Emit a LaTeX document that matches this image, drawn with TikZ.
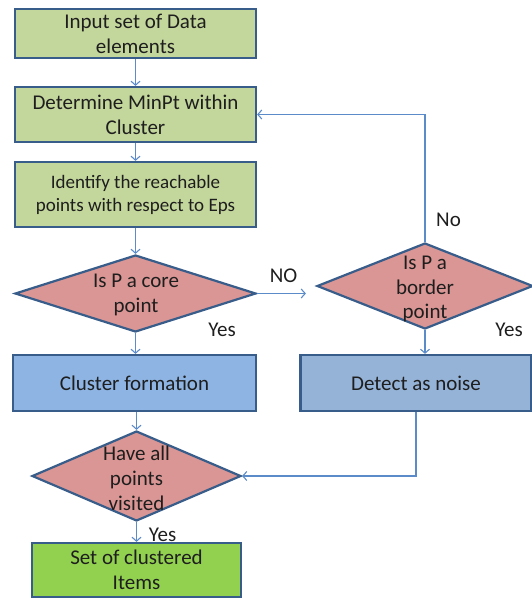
\documentclass[tikz,border=0pt]{standalone}
\usepackage{fontspec}
\setmainfont{Carlito}
\usetikzlibrary{shapes.geometric,arrows.meta}
\definecolor{bordc}{HTML}{385D8A}
\definecolor{linec}{HTML}{5B8BC9}
\definecolor{greenA}{HTML}{C3D69B}
\definecolor{pinkA}{HTML}{D99694}
\definecolor{blueA}{HTML}{8DB4E2}
\definecolor{blueB}{HTML}{95B3D7}
\definecolor{greenB}{HTML}{92D050}
\definecolor{txt}{HTML}{1E1E1E}
\tikzset{
  box/.style={draw=bordc, line width=2.2pt, rectangle, align=center, text=txt,
    inner sep=0pt, font=\fontsize{21}{25}\selectfont},
  dia/.style={draw=bordc, line width=2.2pt, diamond, fill=pinkA, inner sep=0pt},
  diatext/.style={align=center, text=txt, inner sep=0pt, font=\fontsize{21}{25}\selectfont},
  lab/.style={text=txt, inner sep=0pt, font=\fontsize{21}{25}\selectfont},
  arr/.style={draw=linec, line width=1.3pt, -{Straight Barb[length=4pt,width=9pt,line width=1.1pt]}},
}
\begin{document}
\begin{tikzpicture}[x=1pt,y=-1pt]
\useasboundingbox (0,0) rectangle (532,598);
\node[box, fill=greenA, minimum width=241pt, minimum height=49pt] (b1) at (135.5,33.5) {Input set of Data\\elements};
\node[box, fill=greenA, minimum width=241pt, minimum height=55pt] (b2) at (135.5,114.5) {Determine MinPt within\\Cluster};
\node[box, fill=greenA, minimum width=241pt, minimum height=65pt, font=\fontsize{19}{23}\selectfont] (b3) at (135.5,194.5) {Identify the reachable\\points with respect to Eps};

\node[dia, minimum width=241pt, minimum height=77pt] (d1) at (135.5,293.5) {};
\node[diatext] (d1t) at (136,295) {Is P a core\\point};

\node[dia, minimum width=216pt, minimum height=86pt] (d2) at (425,286) {};
\node[diatext, font=\fontsize{21}{24.5}\selectfont] (d2t) at (425,289) {Is P a\\border\\point};

\node[box, fill=blueA, minimum width=243pt, minimum height=56pt] (cf) at (134.5,383) {Cluster formation};
\node[box, fill=blueB, minimum width=231pt, minimum height=56pt] (ns) at (416,383) {Detect as noise};

\node[dia, minimum width=209pt, minimum height=90pt] (d3) at (136.5,476) {};
\node[diatext] (d3t) at (136.5,478) {Have all\\points\\visited};

\node[box, fill=greenB, minimum width=209pt, minimum height=54pt] (fin) at (136.5,570) {Set of clustered\\Items};

\node[lab] (lno) at (283.5,276) {NO};
\node[lab] (lyes1) at (222,330) {Yes};
\node[lab] (lyes2) at (509,330) {Yes};
\node[lab] (lno2) at (448.5,220) {No};
\node[lab] (lyes3) at (162.5,535) {Yes};

\draw[arr] (b1.south) -- (b2.north);
\draw[arr] (b2.south) -- (b3.north);
\draw[arr] (b3.south) -- (d1.north);
\draw[arr] (d1.south) -- (d1.south |- cf.north);
\draw[arr] (d1.east) -- ([xshift=-10pt]d1.east -| d2.west);
\draw[arr] (d2.south) -- (d2.south |- ns.north);
\draw[arr] (d2.north) |- (b2.east);
\draw[arr] (cf.south -| d3.north) -- (d3.north);
\draw[arr] (ns.south) |- (d3.east);
\draw[arr] (d3.south) -- (fin.north);
\end{tikzpicture}
\end{document}
